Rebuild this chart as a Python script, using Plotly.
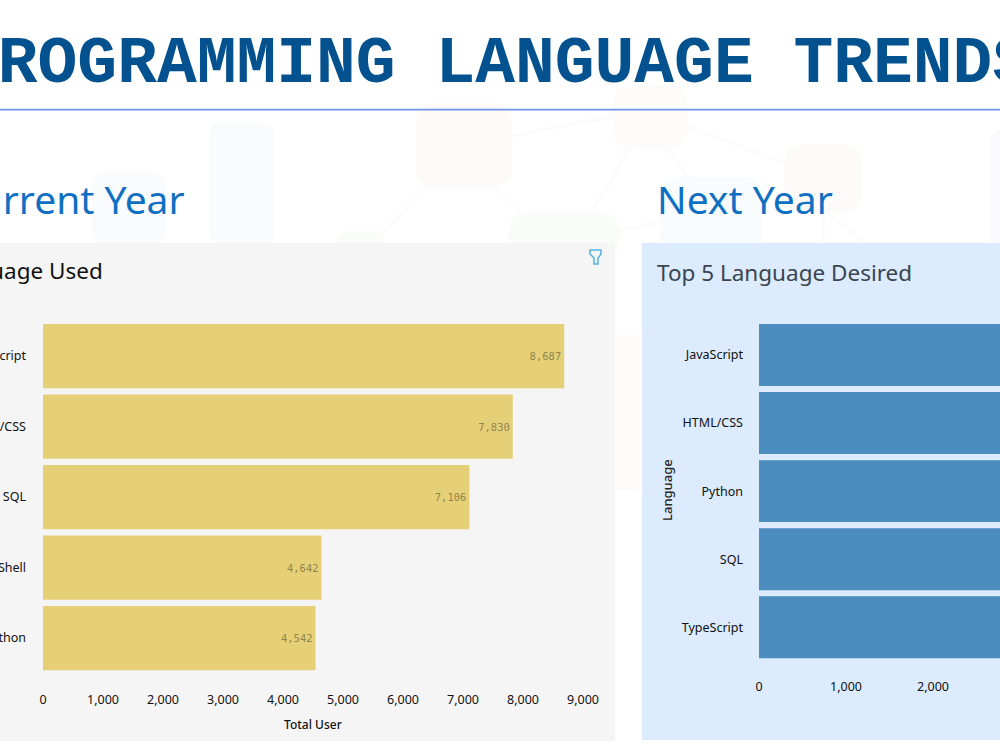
import plotly.graph_objects as go

# Usage counts for the current year
current_languages = ["JavaScript", "HTML/CSS", "SQL", "Bash/Shell", "Python"]
current_users = [8687, 7830, 7106, 4642, 4542]

# Desired languages for next year
next_languages = ["JavaScript", "HTML/CSS", "Python", "SQL", "TypeScript"]
next_users = [6630, 5328, 5239, 5012, 4088]

W, H = 1000, 750
UI_FONT = "Noto Sans"


def px(x):
    return x / W


def py(y):
    return 1 - y / H


def round_rect(x0, y0, x1, y1, r, fill):
    """Rounded rectangle as a paper-anchored path, given in page pixels."""
    pts = (
        f"M{px(x0 + r)},{py(y0)} L{px(x1 - r)},{py(y0)} "
        f"Q{px(x1)},{py(y0)} {px(x1)},{py(y0 + r)} "
        f"L{px(x1)},{py(y1 - r)} Q{px(x1)},{py(y1)} {px(x1 - r)},{py(y1)} "
        f"L{px(x0 + r)},{py(y1)} Q{px(x0)},{py(y1)} {px(x0)},{py(y1 - r)} "
        f"L{px(x0)},{py(y0 + r)} Q{px(x0)},{py(y0)} {px(x0 + r)},{py(y0)} Z"
    )
    return dict(type="path", xref="paper", yref="paper", path=pts,
                fillcolor=fill, line=dict(width=0), layer="below")


def link(x0, y0, x1, y1):
    return dict(type="line", xref="paper", yref="paper",
                x0=px(x0), y0=py(y0), x1=px(x1), y1=py(y1),
                line=dict(color="#fcfcfc", width=4), layer="below")


def panel(x0, y0, x1, y1, fill):
    return dict(type="rect", xref="paper", yref="paper",
                x0=px(x0), y0=py(y0), x1=px(x1), y1=py(y1),
                fillcolor=fill, line=dict(width=0), layer="below")


def label(text, x, y, size, color, anchor="left", family=UI_FONT, angle=0, weight=None):
    font = dict(size=size, color=color, family=family)
    if weight:
        font["weight"] = weight
    return dict(text=text, xref="paper", yref="paper", x=px(x), y=py(y),
                xanchor=anchor, yanchor="middle", showarrow=False,
                textangle=angle, font=font)


# Faint network-and-bars backdrop behind the panels
backdrop = [
    link(505, 137, 615, 116), link(684, 125, 790, 165), link(632, 146, 590, 215),
    link(668, 146, 690, 182), link(428, 185, 378, 238), link(494, 187, 525, 218),
    link(612, 232, 662, 222), link(825, 210, 865, 243), link(823, 210, 823, 243),
    round_rect(209, 122, 274, 245, 14, "#fafbfc"),
    round_rect(92, 172, 165, 245, 14, "#fafbfc"),
    round_rect(416, 103, 512, 188, 22, "#fffafa"),
    round_rect(613, 85, 687, 149, 20, "#fdfcfa"),
    round_rect(784, 144, 862, 212, 20, "#fdfafa"),
    round_rect(508, 212, 620, 260, 24, "#fafcfa"),
    round_rect(335, 231, 384, 260, 14, "#fafcfa"),
    round_rect(660, 177, 762, 260, 18, "#f9fcfe"),
    round_rect(990, 130, 1030, 260, 14, "#fafafd"),
    round_rect(612, 335, 660, 490, 8, "#fffbf9"),
]

# Filter glyph in the corner of the left panel
funnel = dict(
    type="path", xref="paper", yref="paper",
    path=(f"M{px(590)},{py(250)} L{px(601)},{py(250)} L{px(601)},{py(254)} "
          f"L{px(598)},{py(258)} L{px(598)},{py(264)} L{px(594)},{py(264)} "
          f"L{px(594)},{py(258)} L{px(590)},{py(254)} Z"),
    fillcolor="rgba(0,0,0,0)", line=dict(color="#4db2e6", width=1.5),
)

# Heading rule as a thin filled strip
heading_rule = dict(type="rect", xref="paper", yref="paper", x0=0, x1=1,
                    y0=py(110.4), y1=py(108.8), fillcolor="#6f93e6",
                    line=dict(width=0), layer="above")

shapes = backdrop + [
    panel(-5, 243, 615, 741, "#f5f5f5"),
    panel(642, 243, 1005, 740, "#dcebfe"),
    funnel,
    heading_rule,
]

annotations = [
    label("PROGRAMMING LANGUAGE TRENDS", 495, 64, 66.3, "#03528f", "center",
          "Liberation Mono", weight="bold"),
    label("Current Year", 187, 199, 39, "#0f70c3", "right"),
    label("Next Year", 654.5, 199, 39, "#0f70c3"),
    label("Top 5 Language Used", 105, 270, 22.5, "#111111", "right"),
    label("Top 5 Language Desired", 654.5, 272, 22.5, "#3a4550"),
    label("Total User", 313, 724, 12, "#111111", "center", weight=500),
    label("Language", 667, 490, 13, "#252423", "center", angle=-90, weight=500),
]

fig = go.Figure()

fig.add_bar(
    y=current_languages, x=current_users, orientation="h",
    marker=dict(color="#e6d077", line=dict(width=0)),
    text=[f"{v:,}" for v in current_users], textposition="inside",
    insidetextanchor="end", textangle=0,
    textfont=dict(family="DejaVu Sans Mono", size=10.5, color="#90854f"),
    xaxis="x", yaxis="y",
)
fig.add_bar(
    y=next_languages, x=next_users, orientation="h",
    marker=dict(color="#4b8dbf", line=dict(width=0)),
    xaxis="x2", yaxis="y2",
)

tick_font = dict(family=UI_FONT, size=12.5, color="#111111")

fig.update_layout(
    width=W, height=H, margin=dict(l=0, r=0, t=0, b=0, autoexpand=False),
    paper_bgcolor="#ffffff", plot_bgcolor="rgba(0,0,0,0)",
    showlegend=False, bargap=0.09,
    shapes=shapes, annotations=annotations,
    xaxis=dict(domain=[px(43), px(583)], range=[0, 9000], dtick=1000, tickformat=",",
               showgrid=False, zeroline=False, showline=False, ticks="", automargin=False,
               tickfont=tick_font, anchor="y", ticklabelstandoff=17),
    yaxis=dict(domain=[py(673.3), py(320.8)], autorange="reversed", type="category",
               showgrid=False, showline=False, ticks="", tickfont=tick_font, automargin=False,
               anchor="x", ticklabelstandoff=16),
    xaxis2=dict(domain=[px(759), 1], range=[0, 2770], dtick=1000, tickformat=",",
                showgrid=False, zeroline=False, showline=False, ticks="", automargin=False,
                tickfont=tick_font, anchor="y2", ticklabelstandoff=16),
    yaxis2=dict(domain=[py(661.3), py(321)], autorange="reversed", type="category",
                showgrid=False, showline=False, ticks="", tickfont=tick_font, automargin=False,
                anchor="x2", ticklabelstandoff=15),
    hovermode=False,
)

fig.write_html("out.html", config=dict(displayModeBar=False))
